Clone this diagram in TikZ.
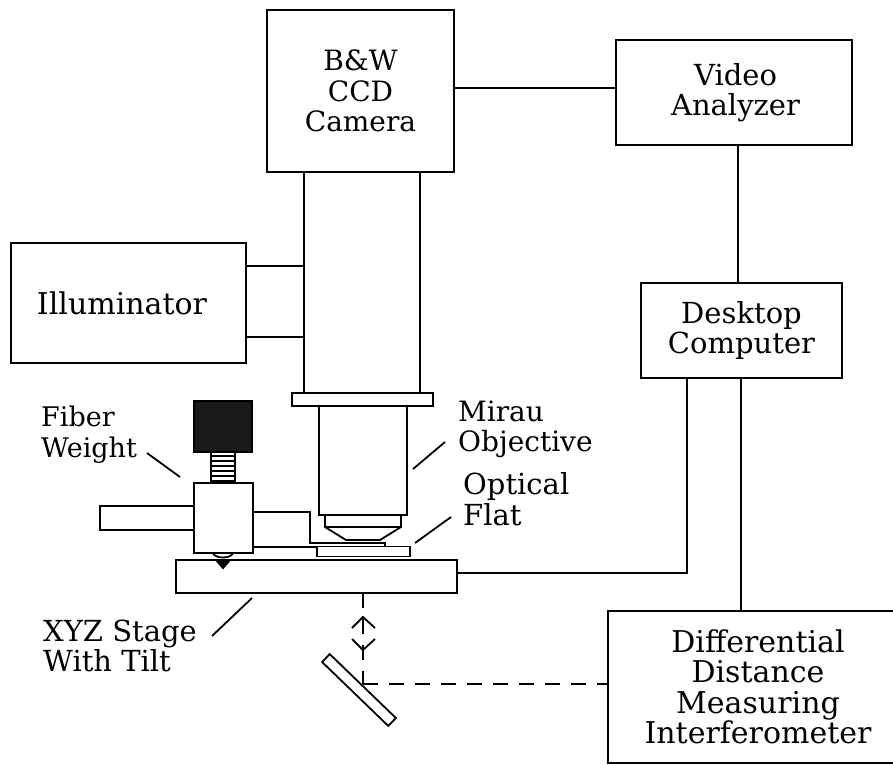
\documentclass[tikz,border=0pt]{standalone}
\usepackage{fontspec}
\setmainfont{DejaVu Serif}
\usepackage{tikz}
\usetikzlibrary{positioning}

\tikzset{
  box/.style={draw, line width=1.8pt, align=center, inner sep=0pt, font=\fontsize{29}{30.5}\selectfont},
  part/.style={draw, line width=1.8pt, inner sep=0pt, outer sep=0pt},
  label/.style={align=left, inner sep=0pt, font=\fontsize{29}{30.5}\selectfont},
  wire/.style={line width=1.8pt},
  beam/.style={line width=1.8pt, dash pattern=on 15pt off 11pt},
  lift/.style={execute at end node={\\[#1]\mbox{}}},
  sink/.style={execute at begin node={\mbox{}\\[#1]}}
}

\begin{document}
\begin{tikzpicture}[x=1pt, y=-1pt]
        \useasboundingbox (0,0) rectangle (893,764);
%	blocks
        \node[box, font=\fontsize{28}{30.5}\selectfont, minimum width=187pt, minimum height=162pt] (camera) at (360.5,91) {B\&W\\CCD\\Camera};
        \node[box, lift=-24.5pt, minimum width=236pt, minimum height=105pt] (video) at (734,92.5) {\hspace*{3pt}Video\\\hspace*{3pt}Analyzer};
        \node[box, lift=-20.5pt, minimum width=201pt, minimum height=95pt] (desktop) at (741.5,330.5) {Desktop\\Computer};
        \node[box, sink=-20.5pt, font=\fontsize{30}{30.5}\selectfont, minimum width=235pt, minimum height=120pt] (illum) at (128.5,303) {Illuminator\hspace*{13pt}};
        \node[box, font=\fontsize{30}{30.5}\selectfont, minimum width=300pt, minimum height=152pt] (interf) at (758,687) {Differential\\Distance\\Measuring\\Interferometer};
%	microscope
        \node[part, minimum width=116pt, minimum height=221pt] (tube) at (362,282.5) {};
        \node[part, fill=white, minimum width=141pt, minimum height=13pt] (flange) at (362.5,399.5) {};
        \node[part, minimum width=88pt, minimum height=109pt] (objective) at (363,460.5) {};
        \draw[wire] (325,515) -- (325,527) -- (346,540) -- (380,540) -- (401,527) -- (401,515)
            (325,527) -- (401,527);
        \node[part, minimum width=93pt, minimum height=10pt] (flat) at (363.5,551.5) {};
        \node[part, minimum width=281pt, minimum height=33pt] (stage) at (316.5,576.5) {};
%	fiber holder
        \node[part, fill=black!90, minimum width=58pt, minimum height=51pt] (weight) at (223,426.5) {};
        \node[part, minimum width=59pt, minimum height=70pt] (holder) at (223.5,518) {};
        \node[part, minimum width=94pt, minimum height=24pt, left=0pt of holder] (bar) {};
        \foreach \y in {456,461,...,481}
            \draw[line width=1.1pt] (211,\y) -- (235,\y);
        \draw[wire] (211,453) -- (211,483) (235,453) -- (235,483);
        \draw[wire] (213,553) .. controls (215,559) and (231,559) .. (233,553);
        \draw[wire, fill=black] (216,560) -- (223,568) -- (230,560) -- cycle;
        \draw[wire] (253,512) -- (310,512) -- (310,543) -- (385,543) -- (385,547);
        \draw[wire] (253,547) -- (317,547);
%	mirror
        \node[part, rotate=-44, minimum width=92pt, minimum height=11pt] (mirror) at (359,690) {};
        \coordinate (bounce) at (363,684);
        \coordinate (tipup) at (363,617);
        \coordinate (tipdown) at (363,650);
%	connections
        \draw[wire] ([yshift=3pt]camera.east) -- ([yshift=3pt]camera.east -| video.west);
        \draw[wire] (video.south -| 738,0) -- (desktop.north -| 738,0);
        \draw[wire] ([yshift=37pt]illum.east) -- ([yshift=37pt]illum.east -| tube.west);
        \draw[wire] ([yshift=-34pt]illum.east) -- ([yshift=-34pt]illum.east -| tube.west);
        \draw[wire] (desktop.south -| 687,0) -- (687,573) -- (stage.east |- 687,573);
        \draw[wire] (desktop.south -| 741,0) -- (interf.north -| 741,0);
        \draw[beam] (stage.south -| bounce) -- (bounce);
        \draw[beam] (bounce) -- (bounce -| interf.west);
        \draw[wire] (352,628) -- (tipup) -- (375,628);
        \draw[wire] (352,639) -- (tipdown) -- (375,639);
%	labels
        \node[label, font=\fontsize{27}{31}\selectfont, anchor=west] (fiberlab) at (41,435) {Fiber\\Weight};
        \node[label, font=\fontsize{28}{30}\selectfont, anchor=west] (mirau) at (458,429) {Mirau\\Objective};
        \node[label, anchor=west] (optical) at (463,499) {Optical\\Flat};
        \node[label, anchor=west] (xyz) at (43,646) {XYZ Stage\\With Tilt};
        \draw[wire] (147,453) -- (180,477);
        \draw[wire] (445,442) -- (413,469);
        \draw[wire] (451,517) -- (415,543);
        \draw[wire] (212,636) -- (252,598);
\end{tikzpicture}
\end{document}
